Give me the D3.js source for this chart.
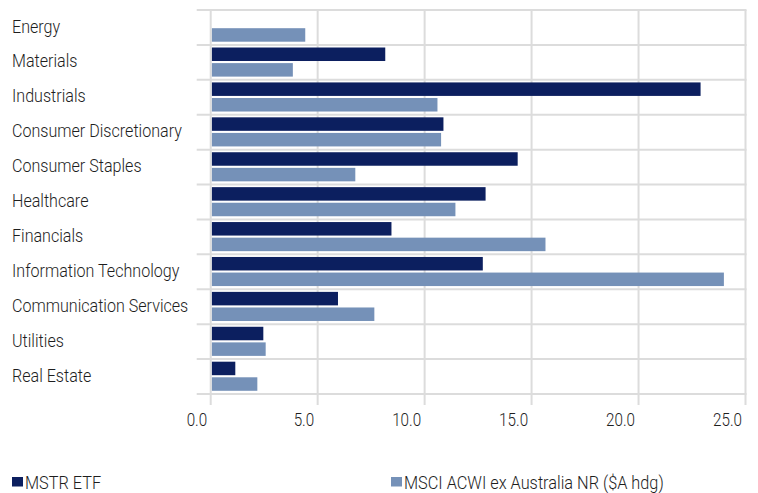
<!DOCTYPE html>
<html>
<head>
<meta charset="utf-8">
<script src="https://cdn.jsdelivr.net/npm/d3@7"></script>
<style>
  html, body { margin: 0; padding: 0; background: #fff; }
  svg { display: block; }
  text { font-family: "Roboto", "Liberation Sans", sans-serif; font-weight: 300; fill: #1e1e1e; }
</style>
</head>
<body>
<svg id="chart" width="758" height="493"></svg>
<script>
// Sector weights (%)
const sectors = [
  "Energy", "Materials", "Industrials", "Consumer Discretionary", "Consumer Staples",
  "Healthcare", "Financials", "Information Technology", "Communication Services",
  "Utilities", "Real Estate"
];
const seriesNames = ["MSTR ETF", "MSCI ACWI ex Australia NR ($A hdg)"];
const mstrValues = [0, 8.16, 22.9, 10.88, 14.35, 12.85, 8.45, 12.72, 5.95, 2.46, 1.15];
const msciValues = [4.42, 3.84, 10.6, 10.77, 6.76, 11.44, 15.65, 23.99, 7.65, 2.57, 2.18];
const xTicks = [0, 5, 10, 15, 20, 25];
const seriesColors = ["#0c1f5f", "#7591b8"];

const svg = d3.select("#chart");
const plot = { left: 210.7, right: 745.5, top: 10, bottom: 394 };

const x = d3.scaleLinear().domain([0, 25]).range([plot.left, plot.right]);
const y = d3.scaleBand().domain(sectors).range([plot.top, plot.bottom]).paddingInner(0).paddingOuter(0);
const bw = y.bandwidth();

// Condensed look: Roboto squeezed horizontally so a sample string hits a given width
function squeeze(sample, size, targetWidth) {
  const t = svg.append("text").attr("font-size", size).text(sample);
  const w = t.node().getComputedTextLength();
  t.remove();
  return targetWidth / w;
}
const FS = 19;
const kLabel = squeeze("Consumer Discretionary", FS, 170);
const kTick = squeeze("25.0", FS, 29);
const kLegend = squeeze("MSCI ACWI ex Australia NR ($A hdg)", FS, 260);

const grid = svg.append("g").attr("stroke", "#dcdcdc").attr("stroke-width", 2);

// horizontal separators, extending a little left of the axis
grid.selectAll("line.h")
  .data(d3.range(sectors.length + 1))
  .join("line")
  .attr("x1", plot.left - 14)
  .attr("x2", plot.right + 1)
  .attr("y1", i => plot.top + i * bw)
  .attr("y2", i => plot.top + i * bw);

// vertical gridlines at each tick, extending below the plot
grid.selectAll("line.v")
  .data(xTicks)
  .join("line")
  .attr("x1", d => x(d))
  .attr("x2", d => x(d))
  .attr("y1", plot.top)
  .attr("y2", plot.bottom + 11);

// bars
const rows = sectors.map((s, i) => ({ sector: s, values: [mstrValues[i], msciValues[i]] }));
const barH = 13.5;
const barOffsets = [2.6, 18.2];

const rowG = svg.append("g").selectAll("g")
  .data(rows)
  .join("g")
  .attr("transform", d => `translate(0,${y(d.sector)})`);

rowG.selectAll("rect")
  .data(d => d.values.map((v, k) => ({ v, k })))
  .join("rect")
  .attr("x", x(0) + 1.2)
  .attr("y", d => barOffsets[d.k])
  .attr("height", barH)
  .attr("width", d => Math.max(0, x(d.v) - x(0) - 1.2))
  .attr("fill", d => seriesColors[d.k]);

// category labels
svg.append("g").selectAll("text")
  .data(sectors)
  .join("text")
  .attr("transform", d => `translate(12,${y(d) + bw / 2 + 5.1}) scale(${kLabel},1)`)
  .attr("font-size", FS)
  .text(d => d);

// x tick labels, right-aligned to their gridline
svg.append("g").selectAll("text")
  .data(xTicks)
  .join("text")
  .attr("transform", d => `translate(${x(d) - 3.5},425.7) scale(${kTick},1)`)
  .attr("text-anchor", "end")
  .attr("font-size", FS)
  .attr("fill", "#2a2a2a")
  .text(d => d3.format(".1f")(d));

// legend
const legendX = [12, 391];
const legend = svg.append("g").selectAll("g")
  .data(seriesNames)
  .join("g")
  .attr("transform", (d, i) => `translate(${legendX[i]},0)`);
legend.append("rect")
  .attr("x", 0).attr("y", 477).attr("width", 11).attr("height", 9.5)
  .attr("fill", (d, i) => seriesColors[i]);
legend.append("text")
  .attr("transform", `translate(13,489) scale(${kLegend},1)`)
  .attr("font-size", FS)
  .text(d => d);
</script>
</body>
</html>
